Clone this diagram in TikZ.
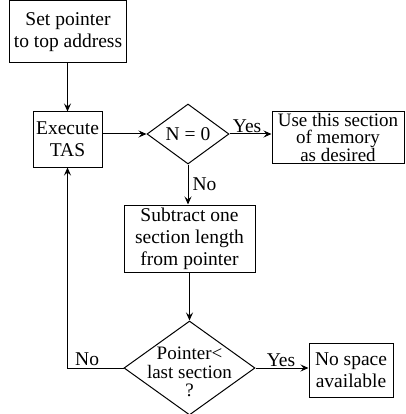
\documentclass[tikz,border=0pt]{standalone}
\usepackage{fontspec}
\setmainfont{Liberation Serif}
\usetikzlibrary{shapes.geometric,arrows.meta}
\begin{document}
\begin{tikzpicture}[x=1pt,y=-1pt,
  font=\fontsize{19.5}{22}\selectfont,
  every path/.style={line width=1pt},
  box/.style={draw, rectangle, inner sep=0pt, align=center},
  dia/.style={draw, diamond, inner sep=0pt},
  lbl/.style={inner sep=0pt},
  arr/.style={-{Stealth[length=8pt,width=7pt,inset=3pt]}}]
\useasboundingbox (0,0) rectangle (405,414);
\node[box, minimum width=117, minimum height=62] (set) at (68,32) {Set pointer\\to top address};
\node[box, minimum width=69, minimum height=55] (exec) at (67.5,139.5) {Execute\\TAS};
\node[dia, minimum width=82, minimum height=60] (d1) at (188,134) {N = 0};
\node[box, minimum width=132, minimum height=52, font=\fontsize{19}{17.5}\selectfont] (use) at (338,137.5) {Use this section\\of memory\\as desired};
\node[box, minimum width=131, minimum height=67] (sub) at (189.5,238.5) {Subtract one\\section length\\from pointer};
\node[dia, minimum width=131, minimum height=94] (d2) at (189.5,368) {};
\node[lbl, align=center, font=\fontsize{19}{18.5}\selectfont] (d2t) at (189.5,372) {Pointer<\\last section\\?};
\node[box, minimum width=84, minimum height=54] (ns) at (351,370) {No space\\available};
\coordinate (corner) at (exec.south |- d2.west);
\draw[arr] (set.south -| exec.north) -- (exec.north);
\draw[arr] (exec.east |- d1.west) -- (d1.west);
\draw[arr] (d1.east) -- (d1.east -| use.west) node[lbl, pos=0.42, above=1pt] (y1) {Yes};
\draw[arr] (d1.south) -- (d1.south |- sub.north) node[lbl, midway, right=4pt] (n1) {No};
\draw[arr] (sub.south) -- (d2.north);
\draw[arr] (d2.east) -- (ns.west |- d2.east) node[lbl, pos=0.48, above=1pt] (y2) {Yes};
\draw[arr] (d2.west) -- (corner) node[lbl, pos=0.65, above=2pt] (n2) {No} -- (exec.south);
\end{tikzpicture}
\end{document}
